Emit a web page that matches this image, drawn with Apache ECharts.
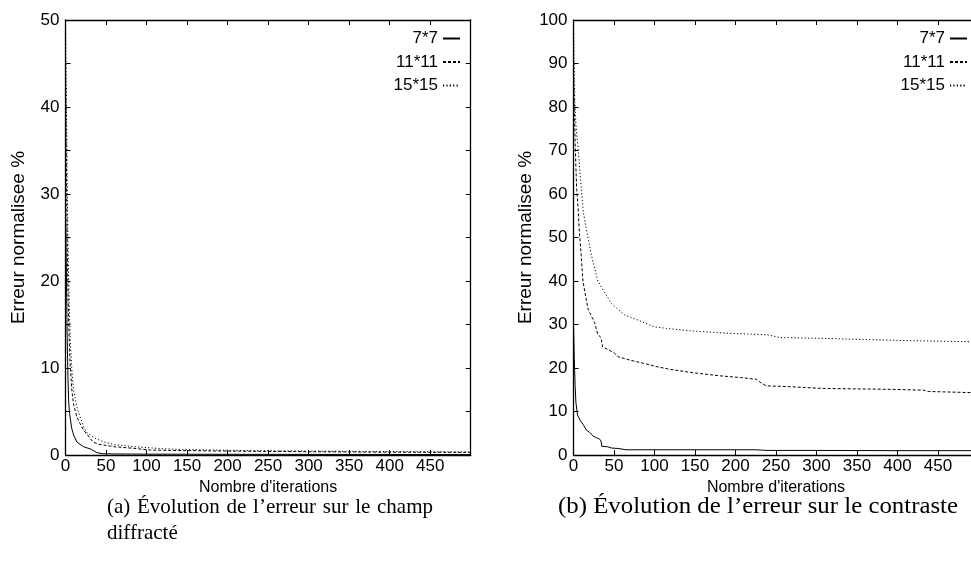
<!DOCTYPE html>
<html><head><meta charset="utf-8">
<script src="https://cdn.jsdelivr.net/npm/echarts@6/dist/echarts.min.js"></script>
<style>html,body{margin:0;padding:0;background:#fff}#c{width:971px;height:577px}</style>
</head><body><div id="c"></div>
<script>
// ---------- data ----------
const seriesNames = ['7*7', '11*11', '15*15'];
const xTickLabels = [0, 50, 100, 150, 200, 250, 300, 350, 400, 450];
const yTickLabelsA = [0, 10, 20, 30, 40, 50];
const yTickLabelsB = [0, 10, 20, 30, 40, 50, 60, 70, 80, 90, 100];
const xAxisTitle = "Nombre d'iterations";
const yAxisTitle = "Erreur normalisee %";
const captionA1 = "(a) Évolution de l’erreur sur le champ";
const captionA2 = "diffracté";
const captionB = "(b) Évolution de l’erreur sur le contraste";

// (a) champ diffracté
const a7_iter  = [0, 1, 2, 3, 4, 5, 7.6, 10, 14, 22, 32, 38, 45, 60, 100, 200, 300, 400, 500];
const a7_err   = [28, 22, 14, 9, 6, 4.8, 3.1, 2.3, 1.5, 0.96, 0.65, 0.3, 0.15, 0.12, 0.1, 0.08, 0.07, 0.06, 0.05];
const a11_iter = [0, 1, 2, 3, 4, 5, 6, 8, 10, 14, 18, 22, 28, 34, 40, 47, 60, 84, 104, 150, 200, 300, 400, 500];
const a11_err  = [45, 34, 25, 19, 15, 12, 10, 7.3, 5.8, 4.4, 3.6, 2.9, 2.2, 1.5, 1.25, 1.15, 0.95, 0.77, 0.57, 0.5, 0.45, 0.38, 0.32, 0.3];
const a15_iter = [0, 1, 2, 3, 4, 5, 6, 8, 10, 14, 18, 22, 26, 35, 47, 60, 84, 100, 125, 150, 230, 300, 400, 500];
const a15_err  = [50, 42, 32, 25, 20, 16, 13, 9.5, 7.5, 5.5, 4.4, 3.3, 2.6, 2.0, 1.5, 1.2, 0.96, 0.85, 0.7, 0.62, 0.5, 0.45, 0.4, 0.35];

// (b) contraste
const b7_iter  = [0, 1, 2, 3, 5, 8, 12, 16, 20, 24, 28, 32, 34, 35, 42, 47, 55, 65, 100, 150, 225, 240, 300, 400, 500];
const b7_err   = [30, 22, 16, 12, 9.2, 8, 7, 5.7, 5.2, 4.4, 4.0, 3.7, 3.2, 2.0, 1.9, 1.6, 1.5, 1.2, 1.2, 1.2, 1.2, 1.05, 1.05, 1.0, 1.0];
const b11_iter = [0, 1, 2, 3, 4, 5.6, 7, 8.8, 11.7, 14, 16, 18, 22, 26, 30, 34, 36, 42, 50, 55, 70, 86, 103, 119, 148, 181, 206, 226, 232, 238, 267, 308, 350, 391, 432, 438, 500];
const b11_err  = [90, 80, 72, 66, 61, 57, 52, 47.6, 40, 37.5, 35.5, 33.5, 32, 30.5, 27.7, 27, 24.8, 24.3, 23.5, 22.6, 21.8, 21.1, 20.3, 19.7, 18.9, 18.2, 17.8, 17.4, 16.5, 15.9, 15.7, 15.3, 15.2, 15.1, 14.9, 14.6, 14.3];
const b15_iter = [0, 1, 1.5, 3, 5.6, 9.7, 12, 15.8, 22, 26, 30, 38, 47, 58, 63, 74, 85, 99, 115, 148, 189, 230, 240, 255, 308, 350, 411, 500];
const b15_err  = [100, 88, 82, 76, 70.5, 61, 56, 52, 46, 43, 40, 37.5, 34.8, 33, 32.2, 31.4, 30.6, 29.5, 29.1, 28.5, 28, 27.7, 27.6, 27.0, 26.8, 26.6, 26.3, 26];

// ---------- chart ----------
const NARROW = '"Liberation Sans Narrow", "Arial Narrow", "Liberation Sans", sans-serif';
const SANS = '"Liberation Sans", Arial, sans-serif';
const SERIF = '"Liberation Serif", "Times New Roman", serif';
const chart = echarts.init(document.getElementById('c'), null, {renderer: 'canvas'});

const pairs = (xs, ys) => xs.map((x, i) => [x, ys[i]]);
const dashes = ['solid', [3, 2], [1.2, 2.2]];
function line(name, idx, xs, ys, ax) {
  return {
    type: 'line', name, xAxisIndex: ax, yAxisIndex: ax,
    data: pairs(xs, ys), symbol: 'none', showSymbol: false, animation: false,
    lineStyle: {color: '#000', width: 1, type: dashes[idx]},
    itemStyle: {color: '#000'}, z: 3
  };
}

function xAx(grid, pos, withLabel) {
  return {
    type: 'value', gridIndex: grid, position: pos, min: 0, max: 500, interval: 50,
    axisLine: {show: true, onZero: false, lineStyle: {color: '#000', width: 1.3}},
    axisTick: {show: true, inside: true, length: 5, lineStyle: {color: '#000', width: 1}},
    axisLabel: {show: withLabel, margin: 3, fontFamily: NARROW, fontSize: 17, color: '#000',
      formatter: v => xTickLabels.includes(v) ? String(v) : ''},
    splitLine: {show: false},
    name: withLabel ? xAxisTitle : '', nameLocation: 'middle', nameGap: 23,
    nameTextStyle: {fontFamily: NARROW, fontSize: 16, color: '#000'}
  };
}
function yAx(grid, pos, withLabel, max, interval, labels) {
  return {
    type: 'value', gridIndex: grid, position: pos, min: 0, max, interval,
    axisLine: {show: true, onZero: false, lineStyle: {color: '#000', width: 1.3}},
    axisTick: {show: true, inside: true, length: 5, lineStyle: {color: '#000', width: 1}},
    axisLabel: {show: withLabel, margin: 6, fontFamily: NARROW, fontSize: 17, color: '#000',
      formatter: v => labels.includes(v) ? String(v) : ''},
    splitLine: {show: false},
    name: withLabel ? yAxisTitle : '', nameLocation: 'middle', nameRotate: 90, nameGap: 37,
    nameTextStyle: {fontFamily: SANS, fontSize: 19, color: '#000'}
  };
}

function legendAt(right) {
  return {
    data: seriesNames, orient: 'vertical', align: 'right', right, top: 30, padding: 0,
    itemWidth: 17, itemHeight: 14, itemGap: 6.5, selectedMode: false,
    textStyle: {fontFamily: NARROW, fontSize: 17, color: '#000'},
    itemStyle: {opacity: 0}
  };
}

// caption layout helpers
const measureCtx = document.createElement('canvas').getContext('2d');
function textWidth(t, size, family) { measureCtx.font = size + 'px ' + family; return measureCtx.measureText(t).width; }
function justified(text, x0, x1, y, size) {
  const words = text.split(' ');
  const ws = words.map(w => textWidth(w, size, SERIF));
  const total = ws.reduce((a, b) => a + b, 0);
  const gap = words.length > 1 ? (x1 - x0 - total) / (words.length - 1) : 0;
  let x = x0;
  return words.map((w, i) => {
    const el = {type: 'text', x, y, silent: true,
      style: {text: w, fontSize: size, fontFamily: SERIF, fill: '#000', verticalAlign: 'middle', align: 'left'}};
    x += ws[i] + gap;
    return el;
  });
}

const graphics = [].concat(
  justified(captionA1, 107, 433, 507, 21),
  [{type: 'text', x: 107, y: 533, silent: true,
    style: {text: captionA2, fontSize: 21, fontFamily: SERIF, fill: '#000', verticalAlign: 'middle', align: 'left'}}],
  [{type: 'text', x: 558, y: 507, silent: true, scaleX: 1.08,
    style: {text: captionB, fontSize: 23, fontFamily: SERIF, fill: '#000', verticalAlign: 'middle', align: 'left'}}]
);

const option = {
  backgroundColor: '#fff',
  animation: false,
  grid: [
    {left: 65.5, top: 20, width: 405.2, height: 435, outerBoundsMode: 'none', containLabel: false},
    {left: 573.5, top: 20, width: 405, height: 435, outerBoundsMode: 'none', containLabel: false}
  ],
  xAxis: [xAx(0, 'bottom', true), xAx(0, 'top', false), xAx(1, 'bottom', true), xAx(1, 'top', false)],
  yAxis: [yAx(0, 'left', true, 50, 5, yTickLabelsA), yAx(0, 'right', false, 50, 5, yTickLabelsA),
          yAx(1, 'left', true, 100, 10, yTickLabelsB), yAx(1, 'right', false, 100, 10, yTickLabelsB)],
  legend: [legendAt(510), legendAt(3)],
  series: [
    line(seriesNames[0], 0, a7_iter, a7_err, 0),
    line(seriesNames[1], 1, a11_iter, a11_err, 0),
    line(seriesNames[2], 2, a15_iter, a15_err, 0),
    line(seriesNames[0], 0, b7_iter, b7_err, 2),
    line(seriesNames[1], 1, b11_iter, b11_err, 2),
    line(seriesNames[2], 2, b15_iter, b15_err, 2)
  ],
  graphic: graphics
};
chart.setOption(option);
</script>
</body></html>
